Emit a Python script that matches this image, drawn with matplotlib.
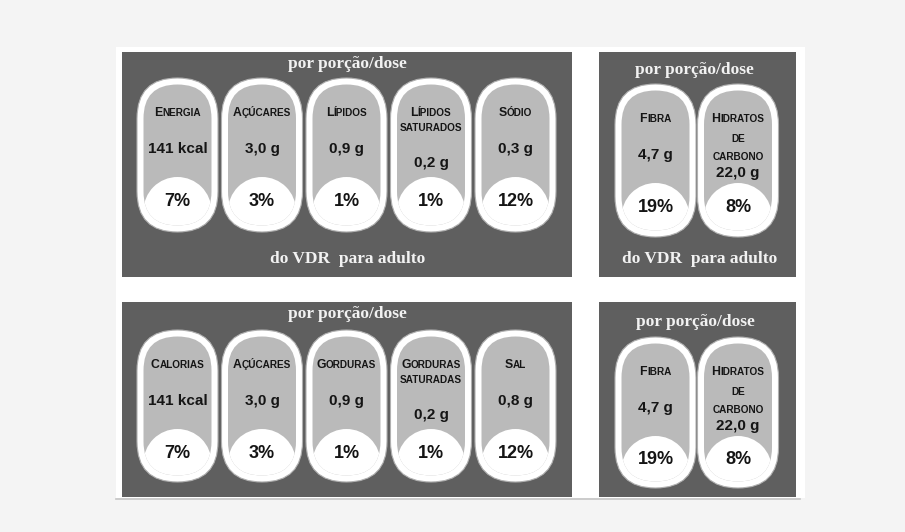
import matplotlib.pyplot as plt
from matplotlib.patches import FancyBboxPatch, Circle, Rectangle
from matplotlib.offsetbox import TextArea, HPacker, AnnotationBbox

# label lines: capital letter = big small-caps letter, lowercase = small caps
top_left_labels = [["Energia"], ["Açúcares"], ["Lípidos"], ["Lípidos", "saturados"], ["Sódio"]]
top_left_values = ["141 kcal", "3,0 g", "0,9 g", "0,2 g", "0,3 g"]
top_left_pct = ["7%", "3%", "1%", "1%", "12%"]

bottom_left_labels = [["Calorias"], ["Açúcares"], ["Gorduras"], ["Gorduras", "saturadas"], ["Sal"]]
bottom_left_values = ["141 kcal", "3,0 g", "0,9 g", "0,2 g", "0,8 g"]
bottom_left_pct = ["7%", "3%", "1%", "1%", "12%"]

right_labels = [["Fibra"], ["Hidratos", "de", "carbono"]]
right_values = ["4,7 g", "22,0 g"]
right_pct = ["19%", "8%"]

title_top = "por porção/dose"
title_bottom = "do VDR  para adulto"

DARK = "#5f5f5f"
PILL = "#bababa"
SANS = "Liberation Sans"
SERIF = "Liberation Serif"

fig = plt.figure(figsize=(9.05, 5.32), dpi=100)
fig.patch.set_facecolor("#f4f4f4")
ax = fig.add_axes([0, 0, 1, 1])
ax.set_xlim(0, 905)
ax.set_ylim(532, 0)
ax.axis("off")

# white sheet + panels
ax.add_patch(Rectangle((116, 47), 689, 451, facecolor="white", edgecolor="none"))
ax.plot([116, 800], [499, 499], color="#c4c4c4", lw=1.2)
panels = [(122, 52, 450, 225), (599, 52, 197, 225), (122, 302, 450, 195), (599, 302, 197, 195)]
for x, y, w, h in panels:
    ax.add_patch(Rectangle((x, y), w, h, facecolor=DARK, edgecolor="none"))


def smallcaps(x, y, word, big=8.8, small=7.2):
    runs = []
    for ch in word:
        is_big = ch.isupper()
        if runs and runs[-1][0] == is_big:
            runs[-1][1] += ch
        else:
            runs.append([is_big, ch])
    boxes = [TextArea(s.upper(), textprops=dict(fontsize=big if b else small, fontweight="bold",
                                                family=SANS, color="#151515"))
             for b, s in runs]
    pack = HPacker(children=boxes, align="baseline", pad=0, sep=0)
    ab = AnnotationBbox(pack, (x, y), xycoords="data", frameon=False, box_alignment=(0.5, 0.5), pad=0)
    ax.add_artist(ab)


line_offsets = {1: ([35], 71), 2: ([35, 50], 85), 3: ([35, 55, 73], 89)}


def pill(cx, top, bottom, label, value, pct, w=81):
    x0 = cx - w / 2
    h = bottom - top
    outer = FancyBboxPatch((x0, top), w, h, boxstyle="round,pad=0,rounding_size=%f" % (w / 2),
                           facecolor="white", edgecolor="#b0b0b0", lw=0.8)
    ax.add_patch(outer)
    t = 6.5
    inner = FancyBboxPatch((x0 + t, top + t), w - 2 * t, h - 2 * t,
                           boxstyle="round,pad=0,rounding_size=%f" % (w / 2 - t),
                           facecolor=PILL, edgecolor="none")
    ax.add_patch(inner)
    r = 34
    dome = Circle((cx, top + 99 + r), r, facecolor="white", edgecolor="none")
    ax.add_patch(dome)
    dome.set_clip_path(inner)
    offs, voff = line_offsets[len(label)]
    for line, o in zip(label, offs):
        smallcaps(cx, top + o, line)
    ax.text(cx, top + voff, value, ha="center", va="center", fontsize=11, fontweight="bold",
            family=SANS, color="#151515")
    ax.text(cx, top + 123, pct, ha="center", va="center", fontsize=13, fontweight="bold",
            family=SANS, color="#151515")


for i in range(len(top_left_labels)):
    pill(177.5 + i * 84.5, 78, 232, top_left_labels[i], top_left_values[i], top_left_pct[i])
for i in range(len(bottom_left_labels)):
    pill(177.5 + i * 84.5, 330, 482, bottom_left_labels[i], bottom_left_values[i], bottom_left_pct[i])
for i in range(len(right_labels)):
    pill(655.5 + i * 82.5, 84, 237, right_labels[i], right_values[i], right_pct[i])
    pill(655.5 + i * 82.5, 337, 488, right_labels[i], right_values[i], right_pct[i])

tkw = dict(ha="center", va="center", fontsize=12.5, fontweight="bold", family=SERIF, color="#f2f2f2")
ax.text(347, 64, title_top, **tkw)
ax.text(348, 259, title_bottom, **tkw)
ax.text(694, 70, title_top, **tkw)
ax.text(700, 259, title_bottom, **tkw)
ax.text(347, 314, title_top, **tkw)
ax.text(695, 322, title_top, **tkw)

fig.savefig("out.png", dpi=100, facecolor=fig.get_facecolor())
